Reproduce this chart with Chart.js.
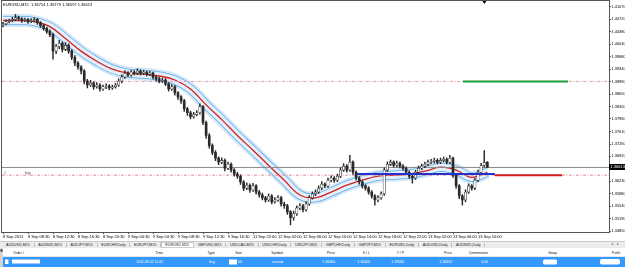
<!DOCTYPE html>
<html>
<head>
<meta charset="utf-8">
<script src="https://cdn.jsdelivr.net/npm/chart.js@4.4.1/dist/chart.umd.min.js"></script>
<style>
  html, body { margin: 0; padding: 0; background: #fff; }
  body { width: 625px; height: 267px; overflow: hidden; position: relative; font-family: "Liberation Sans", Arial, sans-serif; }
  #chart { position: absolute; left: 0; top: 0; }
  /* bottom terminal drawn at 2x and shrunk, like the screenshot */
  #panel { position: absolute; left: 0; top: 241px; width: 1250px; height: 52px; transform: scale(0.5); transform-origin: 0 0; }
  #tabs { position: absolute; left: 0; top: 0; width: 1250px; height: 14px; background: #ececec; border-top: 1px solid #a8a8a8; box-sizing: border-box; display: flex; align-items: center; padding-left: 4px; font-size: 7.4px; color: #222; }
  .tab { padding: 0 8px; border-right: 1px solid #8a8a8a; line-height: 8px; white-space: nowrap; }
  .tab.active { background: #fff; border: 1px solid #9a9a9a; line-height: 10px; }
  #arrows { position: absolute; right: 8px; top: 1px; color: #777; font-size: 8px; letter-spacing: 3px; }
  #side { position: absolute; left: 0; top: 14px; width: 6px; height: 38px; background: #d4d4d4; }
  #side:before { content: ""; position: absolute; left: 1px; top: 3px; width: 4px; height: 4px; background: #222; }
  #head { position: absolute; left: 6px; top: 14px; width: 1244px; height: 18px; background: #fff; border-bottom: 1px solid #cfcfcf; box-sizing: border-box; font-size: 7px; color: #111; }
  #row { position: absolute; left: 6px; top: 32px; width: 1244px; height: 20px; background: #3399ff; color: #fff; font-size: 7px; }
  .c { position: absolute; white-space: nowrap; line-height: 18px; }
  #row .c { line-height: 20px; }
  .blot { position: absolute; background: #fff; }
</style>
</head>
<body>
<canvas id="chart" width="625" height="241"></canvas>
<div id="panel">
  <div id="tabs"></div>
  <div id="arrows">&#9666; &#9656;</div>
  <div id="side"></div>
  <div id="head"></div>
  <div id="row"></div>
</div>
<script>
(function(){

const symbolName = 'EURUSD,M15';

// time axis, one label every 8 bars
const timeLabels = ['8 Sep 2011', '8 Sep 08:30', '8 Sep 12:30', '8 Sep 16:30', '8 Sep 20:30',
  '9 Sep 00:30', '9 Sep 04:30', '9 Sep 08:30', '9 Sep 12:30', '9 Sep 16:30',
  '11 Sep 22:00', '12 Sep 02:00', '12 Sep 06:00', '12 Sep 10:00', '12 Sep 14:00',
  '12 Sep 18:00', '12 Sep 22:00', '13 Sep 02:00', '13 Sep 06:00', '13 Sep 10:00'];
const labelEvery = 8;

const yTicks = [1.34850, 1.35190, 1.35540, 1.35880, 1.36230, 1.36570, 1.36920, 1.37260, 1.37610, 1.37960,
  1.38300, 1.38650, 1.38990, 1.39340, 1.39680, 1.40030, 1.40380, 1.40720, 1.41070];

// candles
const opens = [1.4057,1.4060,1.4066,1.4069,1.4072,1.4077,1.4074,1.4069,1.4072,1.4066,
  1.4069,1.4072,1.4063,1.4055,1.4047,1.4039,1.4030,1.3984,1.3997,1.4006,
  1.3989,1.4000,1.3984,1.3967,1.3951,1.3940,1.3929,1.3901,1.3890,1.3896,
  1.3885,1.3890,1.3879,1.3885,1.3887,1.3882,1.3885,1.3890,1.3901,1.3912,
  1.3923,1.3918,1.3926,1.3923,1.3929,1.3923,1.3926,1.3920,1.3923,1.3912,
  1.3907,1.3901,1.3904,1.3893,1.3879,1.3885,1.3868,1.3857,1.3846,1.3824,
  1.3813,1.3802,1.3808,1.3813,1.3830,1.3786,1.3750,1.3722,1.3703,1.3687,
  1.3676,1.3681,1.3659,1.3670,1.3654,1.3643,1.3637,1.3621,1.3604,1.3612,
  1.3599,1.3610,1.3593,1.3585,1.3577,1.3571,1.3582,1.3566,1.3571,1.3577,
  1.3560,1.3555,1.3538,1.3522,1.3533,1.3549,1.3555,1.3544,1.3560,1.3577,
  1.3588,1.3593,1.3604,1.3615,1.3610,1.3626,1.3632,1.3626,1.3637,1.3654,
  1.3665,1.3654,1.3676,1.3648,1.3632,1.3621,1.3610,1.3604,1.3593,1.3582,
  1.3571,1.3577,1.3588,1.3654,1.3670,1.3676,1.3667,1.3673,1.3665,1.3659,
  1.3648,1.3637,1.3632,1.3648,1.3659,1.3665,1.3670,1.3676,1.3678,1.3681,
  1.3676,1.3681,1.3684,1.3676,1.3687,1.3640,1.3610,1.3582,1.3571,1.3593,
  1.3610,1.3604,1.3626,1.3648,1.3667,1.36754];
const highs = [1.4064,1.4071,1.4073,1.4078,1.4086,1.4081,1.4077,1.4076,1.4075,1.4074,
  1.4077,1.4075,1.4066,1.4059,1.4051,1.4043,1.4034,1.4003,1.4014,1.4010,
  1.4008,1.4004,1.3988,1.3972,1.3955,1.3944,1.3933,1.3906,1.3903,1.3899,
  1.3897,1.3894,1.3890,1.3893,1.3891,1.3890,1.3895,1.3907,1.3918,1.3930,
  1.3927,1.3931,1.3930,1.3935,1.3932,1.3931,1.3929,1.3928,1.3926,1.3916,
  1.3911,1.3909,1.3908,1.3897,1.3891,1.3889,1.3872,1.3861,1.3850,1.3828,
  1.3818,1.3814,1.3819,1.3838,1.3833,1.3790,1.3755,1.3727,1.3708,1.3691,
  1.3688,1.3685,1.3676,1.3674,1.3658,1.3648,1.3641,1.3625,1.3619,1.3616,
  1.3617,1.3614,1.3598,1.3590,1.3581,1.3588,1.3586,1.3578,1.3583,1.3581,
  1.3565,1.3559,1.3542,1.3540,1.3555,1.3561,1.3559,1.3566,1.3583,1.3594,
  1.3599,1.3610,1.3622,1.3619,1.3632,1.3638,1.3636,1.3643,1.3660,1.3672,
  1.3669,1.3695,1.3680,1.3652,1.3636,1.3625,1.3614,1.3608,1.3597,1.3586,
  1.3583,1.3594,1.3660,1.3677,1.3682,1.3680,1.3679,1.3677,1.3669,1.3663,
  1.3652,1.3641,1.3653,1.3665,1.3671,1.3676,1.3682,1.3684,1.3687,1.3685,
  1.3687,1.3690,1.3688,1.3695,1.3690,1.3644,1.3614,1.3586,1.3599,1.3616,
  1.3614,1.3632,1.3654,1.3673,1.3708,1.36779];
const lows = [1.4051,1.4057,1.4062,1.4065,1.4068,1.4069,1.4064,1.4066,1.4061,1.4063,
  1.4065,1.4058,1.4050,1.4042,1.4033,1.4024,1.3962,1.3977,1.3991,1.3982,
  1.3985,1.3978,1.3960,1.3944,1.3934,1.3921,1.3893,1.3882,1.3886,1.3878,
  1.3881,1.3873,1.3875,1.3880,1.3877,1.3878,1.3881,1.3886,1.3896,1.3908,
  1.3913,1.3914,1.3918,1.3919,1.3918,1.3919,1.3915,1.3916,1.3907,1.3901,
  1.3896,1.3897,1.3888,1.3873,1.3875,1.3862,1.3850,1.3839,1.3817,1.3806,
  1.3796,1.3798,1.3804,1.3809,1.3780,1.3742,1.3715,1.3697,1.3680,1.3669,
  1.3672,1.3652,1.3655,1.3648,1.3637,1.3631,1.3614,1.3597,1.3600,1.3592,
  1.3595,1.3587,1.3579,1.3571,1.3565,1.3567,1.3560,1.3562,1.3567,1.3554,
  1.3548,1.3531,1.3502,1.3515,1.3528,1.3544,1.3538,1.3540,1.3556,1.3573,
  1.3583,1.3589,1.3600,1.3605,1.3606,1.3621,1.3620,1.3622,1.3633,1.3650,
  1.3648,1.3650,1.3642,1.3626,1.3615,1.3604,1.3598,1.3587,1.3576,1.3557,
  1.3566,1.3573,1.3584,1.3650,1.3666,1.3662,1.3663,1.3660,1.3654,1.3643,
  1.3631,1.3618,1.3628,1.3644,1.3655,1.3661,1.3666,1.3672,1.3674,1.3671,
  1.3672,1.3677,1.3671,1.3672,1.3634,1.3603,1.3575,1.3557,1.3566,1.3589,
  1.3598,1.3600,1.3622,1.3644,1.3663,1.36597];
const closes = [1.4060,1.4066,1.4069,1.4072,1.4077,1.4074,1.4069,1.4072,1.4066,1.4069,
  1.4072,1.4063,1.4055,1.4047,1.4039,1.4030,1.3984,1.3997,1.4006,1.3989,
  1.4000,1.3984,1.3967,1.3951,1.3940,1.3929,1.3901,1.3890,1.3896,1.3885,
  1.3890,1.3879,1.3885,1.3887,1.3882,1.3885,1.3890,1.3901,1.3912,1.3923,
  1.3918,1.3926,1.3923,1.3929,1.3923,1.3926,1.3920,1.3923,1.3912,1.3907,
  1.3901,1.3904,1.3893,1.3879,1.3885,1.3868,1.3857,1.3846,1.3824,1.3813,
  1.3802,1.3808,1.3813,1.3830,1.3786,1.3750,1.3722,1.3703,1.3687,1.3676,
  1.3681,1.3659,1.3670,1.3654,1.3643,1.3637,1.3621,1.3604,1.3612,1.3599,
  1.3610,1.3593,1.3585,1.3577,1.3571,1.3582,1.3566,1.3571,1.3577,1.3560,
  1.3555,1.3538,1.3522,1.3533,1.3549,1.3555,1.3544,1.3560,1.3577,1.3588,
  1.3593,1.3604,1.3615,1.3610,1.3626,1.3632,1.3626,1.3637,1.3654,1.3665,
  1.3654,1.3676,1.3648,1.3632,1.3621,1.3610,1.3604,1.3593,1.3582,1.3571,
  1.3577,1.3588,1.3654,1.3670,1.3676,1.3667,1.3673,1.3665,1.3659,1.3648,
  1.3637,1.3632,1.3648,1.3659,1.3665,1.3670,1.3676,1.3678,1.3681,1.3676,
  1.3681,1.3684,1.3676,1.3687,1.3640,1.3610,1.3582,1.3571,1.3593,1.3610,
  1.3604,1.3626,1.3648,1.3667,1.36754,1.36613];

// moving average centre line, one point every 5 bars
const maStep = 5;
const maMid = [1.4069,1.4069,1.4066,1.4052,1.4019,1.3984,1.3956,1.3934,1.3923,1.3920,
  1.3915,1.3904,1.3879,1.3835,1.3794,1.3750,1.3709,1.3667,1.3626,1.3585,
  1.3577,1.3593,1.3612,1.3626,1.3637,1.3640,1.3643,1.3651,1.3662,1.3654,
  1.3634,1.3648];

// order levels
const tpPrice = 1.39000;
const orderPrice = 1.36400;
const slPrice = 1.36400;
const entryLinePrice = 1.36430;
const tpSegment = [147.2, 180.8];
const slSegment = [157.4, 178.9];
const entrySegment = [113.3, 157.4];

const xMin = -0.32, xMax = 193.92;
const yMin = 1.348225, yMax = 1.4118;
const frameColor = '#555';
const candleColor = '#2a2a2a';
const fontFamily = '"Liberation Sans", Arial, sans-serif';
const last = closes.length - 1;

const idx = closes.map((_, i) => i);
const wicks = idx.map(i => ({ x: i, y: [lows[i], highs[i]] }));
const bullBodies = idx.filter(i => closes[i] >= opens[i]).map(i => ({ x: i, y: [opens[i], closes[i]] }));
const bearBodies = idx.filter(i => closes[i] < opens[i]).map(i => ({ x: i, y: [closes[i], opens[i]] }));
const maPoints = maMid.map((v, k) => ({ x: k * maStep, y: v }));

function hline(price, from, to) {
  return [{ x: from, y: price }, { x: to, y: price }];
}
function bandLine(width, color, order) {
  return { type: 'line', data: maPoints, borderColor: color, borderWidth: width, pointRadius: 0,
    tension: 0.4, borderCapStyle: 'butt', borderJoinStyle: 'round', order: order };
}

const overlay = {
  id: 'overlay',
  afterDraw(chart) {
    const c = chart.ctx, a = chart.chartArea;
    const xs = chart.scales.x, ys = chart.scales.y;
    c.save();
    c.strokeStyle = frameColor;
    c.lineWidth = 1;
    c.strokeRect(1.5, 0.5, a.right - 1, a.bottom);

    c.font = '4px ' + fontFamily;
    c.textBaseline = 'middle';
    c.textAlign = 'left';
    c.fillStyle = '#000';
    c.fillText(symbolName + '  ' + [opens[last], highs[last], lows[last], closes[last]].map(v => v.toFixed(5)).join(' '), 3, 5);

    // order line tag
    const oy = ys.getPixelForValue(orderPrice);
    c.fillStyle = '#444';
    c.font = '3.5px ' + fontFamily;
    c.fillText('#', 4, oy - 2.5);
    c.fillText('buy', 25, oy - 2.5);

    // chart shift marker
    const sx = xs.getPixelForValue(last) - 3;
    c.fillStyle = '#000';
    c.beginPath();
    c.moveTo(sx - 2, 1); c.lineTo(sx + 2, 1); c.lineTo(sx, 4);
    c.closePath(); c.fill();

    // bid price box
    const py = Math.round(ys.getPixelForValue(closes[last]));
    c.fillRect(a.right, py - 3, 16, 6);
    c.fillStyle = '#fff';
    c.font = '4px ' + fontFamily;
    c.fillText(closes[last].toFixed(5), a.right + 1.5, py);
    c.restore();
  }
};

new Chart(document.getElementById('chart'), {
  type: 'bar',
  data: {
    datasets: [
      bandLine(13, '#d3e8f8', 30),
      bandLine(9, '#62a8e4', 29),
      bandLine(7.5, '#e2f0fb', 28),
      bandLine(1.3, '#d42222', 27),
      { type: 'line', data: hline(tpPrice, xMin, xMax), borderColor: '#e39aa6', borderWidth: 1,
        borderDash: [3, 1.5, 1, 1.5], pointRadius: 0, order: 20 },
      { type: 'line', data: hline(orderPrice, xMin, xMax), borderColor: '#e08a98', borderWidth: 1,
        borderDash: [3, 1.5, 1, 1.5], pointRadius: 0, order: 20 },
      { type: 'line', data: hline(closes[last], xMin, xMax), borderColor: '#8a8a8a', borderWidth: 1,
        pointRadius: 0, order: 19 },
      { type: 'bar', data: wicks, backgroundColor: candleColor, barThickness: 0.8, order: 6 },
      { type: 'bar', data: bearBodies, backgroundColor: candleColor, barThickness: 2, order: 5 },
      { type: 'bar', data: bullBodies, backgroundColor: '#fff', borderColor: candleColor, borderWidth: 0.6,
        borderSkipped: false, barThickness: 2.4, order: 4 },
      { type: 'line', data: hline(entryLinePrice, entrySegment[0], entrySegment[1]), borderColor: '#2233cc',
        borderWidth: 2, pointRadius: 0, order: 2 },
      { type: 'line', data: hline(tpPrice, tpSegment[0], tpSegment[1]), borderColor: '#1a9e3a',
        borderWidth: 2, pointRadius: 0, order: 1 },
      { type: 'line', data: hline(slPrice, slSegment[0], slSegment[1]), borderColor: '#d01c1c',
        borderWidth: 2, pointRadius: 0, order: 1 }
    ]
  },
  options: {
    responsive: false,
    animation: false,
    layout: { padding: { left: 2, top: 1, right: 0, bottom: 0 } },
    plugins: { legend: { display: false }, tooltip: { enabled: false } },
    datasets: { bar: { grouped: false } },
    scales: {
      x: {
        type: 'linear', min: xMin, max: xMax, offset: false,
        grid: { drawOnChartArea: false, drawTicks: true, tickLength: 2, color: frameColor, offset: false },
        border: { display: false },
        afterFit: s => { s.height = 9; },
        afterBuildTicks: s => { s.ticks = timeLabels.map((t, k) => ({ value: k * labelEvery })); },
        ticks: { autoSkip: false, maxRotation: 0, minRotation: 0, align: 'start', padding: 0, color: '#000',
          font: { size: 4, family: fontFamily }, callback: v => timeLabels[Math.round(v / labelEvery)] }
      },
      y: {
        position: 'right', min: yMin, max: yMax,
        grid: { drawOnChartArea: false, drawTicks: true, tickLength: 2, color: frameColor },
        border: { display: false },
        afterFit: s => { s.width = 16; },
        afterBuildTicks: s => { s.ticks = yTicks.map(v => ({ value: v })); },
        ticks: { autoSkip: false, padding: 0.5, color: '#000', font: { size: 3.9, family: fontFamily },
          callback: v => v.toFixed(5) }
      }
    }
  },
  plugins: [overlay]
});

// terminal tabs and the trade row
const tabNames = ['AUDUSD,M15', 'AUDNZD,M15', 'AUDJPY,M15', 'EURCHF,Daily', 'EURJPY,M15', 'EURUSD,M15',
  'GBPUSD,M15', 'USDCAD,M15', 'USDCHF,Daily', 'USDJPY,M15', 'GBPCHF,Daily', 'GBPJPY,M15',
  'EURUSD,Daily', 'AUDUSD,Daily', 'AUDNZD,Daily'];
const activeTab = 'EURUSD,M15';
const columns = ['Time', 'Type', 'Size', 'Symbol', 'Price', 'S / L', 'T / P', 'Price', 'Commission', 'Swap', 'Profit'];
const columnEdges = [320, 424, 478, 560, 664, 734, 802, 898, 970, 1108, 1234];
const rowValues = ['2011.09.12 11:42', 'buy', '00', 'eurusd', orderPrice.toFixed(5), slPrice.toFixed(5),
  tpPrice.toFixed(5), closes[last].toFixed(5), '0.00', '', ''];

const tabsEl = document.getElementById('tabs');
tabNames.forEach(n => {
  const d = document.createElement('div');
  d.className = 'tab' + (n === activeTab ? ' active' : '');
  d.textContent = n;
  tabsEl.appendChild(d);
});

const head = document.getElementById('head');
const row = document.getElementById('row');
function cell(parent, text, right) {
  const s = document.createElement('div');
  s.className = 'c';
  s.textContent = text;
  s.style.right = (1244 - right) + 'px';
  parent.appendChild(s);
}
const orderHead = document.createElement('div');
orderHead.className = 'c';
orderHead.style.left = '20px';
orderHead.textContent = 'Order  /';
head.appendChild(orderHead);
columns.forEach((n, k) => cell(head, n, columnEdges[k]));
rowValues.forEach((v, k) => { if (v) cell(row, v, columnEdges[k]); });

// hidden fields in the screenshot
[[4, 5, 7, 9, 0], [18, 5, 56, 8, 0], [452, 5, 16, 10, 0], [1080, 5, 28, 10, 3], [1194, 4, 40, 11, 4]].forEach(b => {
  const e = document.createElement('div');
  e.className = 'blot';
  e.style.left = b[0] + 'px'; e.style.top = b[1] + 'px';
  e.style.width = b[2] + 'px'; e.style.height = b[3] + 'px';
  e.style.borderRadius = b[4] + 'px';
  row.appendChild(e);
});

})();
</script>
</body>
</html>
